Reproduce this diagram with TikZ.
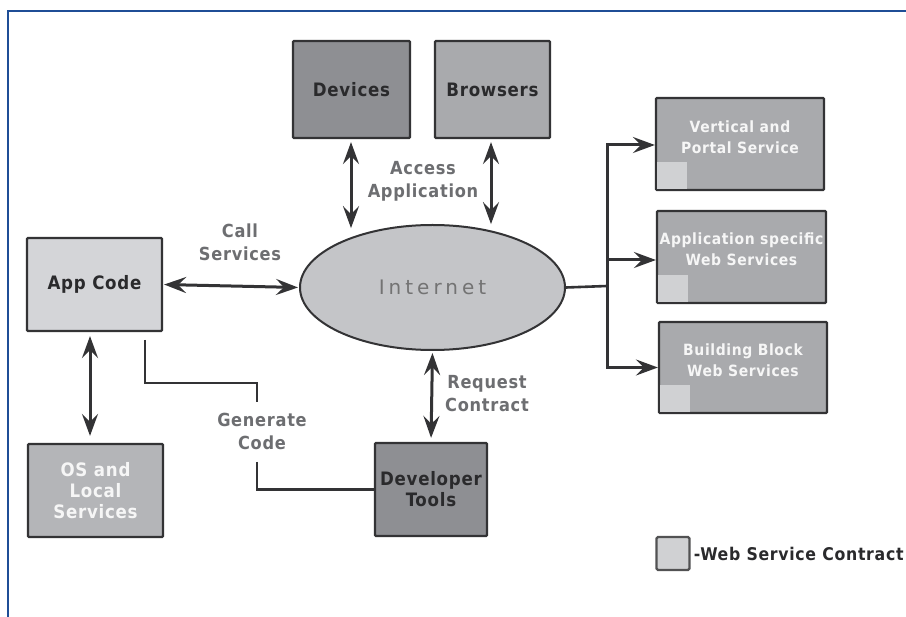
\documentclass[tikz,border=0pt]{standalone}
\usepackage{fontspec}
\setmainfont{DejaVu Sans}
\newfontfamily\labf[LetterSpace=4]{DejaVu Sans Condensed Bold}
\newfontfamily\inetf[LetterSpace=20]{DejaVu Sans}
\usetikzlibrary{arrows.meta,shapes.geometric}
\definecolor{darkbox}{HTML}{8E8F93}
\definecolor{midbox}{HTML}{A9AAAD}
\definecolor{lightbox}{HTML}{D4D5D8}
\definecolor{osbox}{HTML}{B4B5B8}
\definecolor{contract}{HTML}{D0D1D3}
\definecolor{inetfill}{HTML}{C4C5C8}
\definecolor{edge}{HTML}{333335}
\definecolor{darktext}{HTML}{2A2A2C}
\definecolor{labtext}{HTML}{6D6E71}
\definecolor{frameblue}{HTML}{1F4E96}
\tikzset{bigtip/.tip={Stealth[length=22pt,width=16pt,inset=8pt]}}
\begin{document}
\begin{tikzpicture}[x=1pt,y=1pt,
  box/.style={draw=edge, line width=2.2pt, rounded corners=1pt, inner sep=0pt, align=center,
    font=\labf\fontsize{18.5}{21}\selectfont},
  darkt/.style={text=darktext},
  whitet/.style={text=white!93!gray},
  stext/.style={whitet, align=center, font=\labf\fontsize{15.5}{21}\selectfont},
  lab/.style={text=labtext, align=center, font=\labf\fontsize{18}{23}\selectfont},
  dbl/.style={bigtip-bigtip, line width=3pt, draw=edge},
  arr/.style={-bigtip, line width=3pt, draw=edge},
  ln/.style={line width=2.6pt, draw=edge}
]
\useasboundingbox (0,0) rectangle (906,-617);
\fill[white] (0,0) rectangle (906,-617);
% frame
\draw[frameblue, line width=2pt] (906,-11) -- (8,-11) -- (8,-617);

% nodes
\node[box, darkt, fill=darkbox, minimum width=117, minimum height=97] (devices) at (351.5,-89.5) {Devices};
\node[box, darkt, fill=midbox, minimum width=115, minimum height=97] (browsers) at (492.5,-89.5) {Browsers};
\node[draw=edge, line width=2pt, fill=inetfill, ellipse, minimum width=265, minimum height=125, inner sep=0pt,
      text=gray!90!black, font=\inetf\fontsize{20}{22}\selectfont] (inet) at (432.5,-287.5) {Internet};
\node[box, darkt, fill=lightbox, minimum width=135, minimum height=93] (app) at (94.5,-284.5) {App Code};
\node[box, whitet, fill=osbox, minimum width=135, minimum height=93] (os) at (95.5,-490.5) {OS and\\Local\\Services};
\node[box, darkt, fill=darkbox, minimum width=112, minimum height=93] (dev) at (431,-489.5) {Developer\\Tools};

\node[box, fill=midbox, minimum width=168, minimum height=92,
  label={[stext, yshift=7]center:Vertical and\\Portal Service}] (s1) at (740,-144) {};
\node[box, fill=midbox, minimum width=169, minimum height=92,
  label={[stext, yshift=8]center:Application specific\\Web Services}] (s2) at (741.5,-257) {};
\node[box, fill=midbox, minimum width=168, minimum height=91,
  label={[stext, yshift=7]center:Building Block\\Web Services}] (s3) at (743,-367.5) {};
\fill[contract] ([shift={(2,2)}]s1.south west) rectangle ++(30,27);
\fill[contract] ([shift={(2,2)}]s2.south west) rectangle ++(30,27);
\fill[contract] ([shift={(2,2)}]s3.south west) rectangle ++(30,27);

% legend
\node[draw=edge!85!white, line width=2.2pt, rounded corners=1.5pt, fill=contract, minimum width=33, minimum height=33, inner sep=0pt] (leg) at (673,-553.5) {};
\node[anchor=west, darkt, font=\labf\fontsize{17.5}{20}\selectfont, inner sep=0pt] (legt) at ([xshift=3]leg.east) {-Web Service Contract};

% labels
\node[lab] (lcall) at (240,-242) {Call\\Services};
\node[lab] (lacc) at (423,-181) {Access\\Application};
\node[lab] (lreq) at (487,-394) {Request\\Contract};
\node[lab] (lgen) at (262,-431) {Generate\\Code};

% connectors
\draw[dbl, shorten <=3pt, shorten >=3pt] ([xshift=-0.5]devices.south) -- ++(0,-92);
\draw[dbl, shorten <=3pt, shorten >=3pt] ([xshift=-1.5]browsers.south) -- ++(0,-88);
\draw[dbl, shorten <=1pt, shorten >=1pt] (app.east) -- (inet.west);
\draw[dbl, shorten <=4pt, shorten >=7pt] ([xshift=-4.5]app.south) -- ([xshift=-5.5]os.north);
\draw[dbl, shorten <=2pt, shorten >=4pt] (inet.south) -- (dev.north);

\coordinate (j) at (607,-286);
\draw[ln] (inet.east) -- (j);
\draw[arr] (j) |- ([yshift=-1]s1.west);
\draw[arr] (j) |- ([yshift=-3]s2.west);
\draw[arr] (j) |- (s3.west);
\draw[ln] (607,-145) -- (607,-368);

\coordinate (g1) at (145,-340);
\coordinate (g2) at (257,-402);
\coordinate (g3) at (257,-462);
\draw[ln] (g1) |- (257,-383) -- (g2);
\draw[ln] (g3) |- (dev.west);
\end{tikzpicture}
\end{document}
